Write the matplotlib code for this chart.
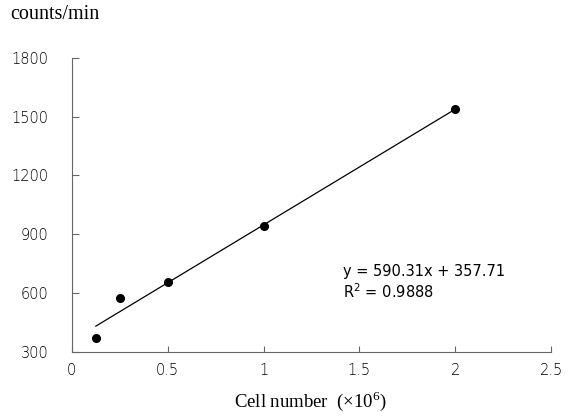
import numpy as np
import matplotlib.pyplot as plt

# Dane
cells = [0.125, 0.25, 0.5, 1.0, 2.0]
counts = [371, 574, 656, 941, 1540]
x_ticks = [0, 0.5, 1, 1.5, 2, 2.5]
x_labels = ['0', '0.5', '1', '1.5', '2', '2.5']
y_ticks = [300, 600, 900, 1200, 1500, 1800]

slope, intercept = 590.31, 357.71

fig = plt.figure(figsize=(5.7, 4.16), dpi=100)
ax = fig.add_axes([0.126, 0.154, 0.841, 0.707])

ax.plot(cells, counts, 'o', color='black', markersize=5.5)
xl = np.array([min(cells), max(cells)])
ax.plot(xl, slope * xl + intercept, color='black', linewidth=0.9)

ax.set_xlim(0, 2.5)
ax.set_ylim(300, 1800)
ax.set_xticks(x_ticks)
ax.set_xticklabels(x_labels)
ax.set_yticks(y_ticks)

for s in ['top', 'right']:
    ax.spines[s].set_visible(False)
for s in ['left', 'bottom']:
    ax.spines[s].set_color('#666666')
    ax.spines[s].set_linewidth(0.8)

ax.tick_params(axis='y', direction='in', length=5, pad=17, labelsize=10.5,
               color='#666666')
ax.tick_params(axis='x', direction='in', length=4, pad=8, labelsize=10.5,
               color='#666666')
for lab in ax.get_xticklabels() + ax.get_yticklabels():
    lab.set_family('DejaVu Sans')
    lab.set_fontweight('light')

ax.text(1.415, 710, 'y = 590.31x + 357.71', fontsize=10.5, family='DejaVu Sans',
        va='center')
ax.text(1.415, 605, '$\\mathregular{R^2}$ = 0.9888', fontsize=10.5,
        family='DejaVu Sans', va='center')

fig.text(0.018, 0.965, 'counts/min', fontsize=14.5, family='Liberation Serif',
         va='center', ha='left')
fig.text(0.545, 0.035, 'Cell number  (×10$^{\\mathregular{6}}$)', fontsize=13.5,
         family='Liberation Serif', va='center', ha='center')

plt.savefig('out.png', dpi=100)
